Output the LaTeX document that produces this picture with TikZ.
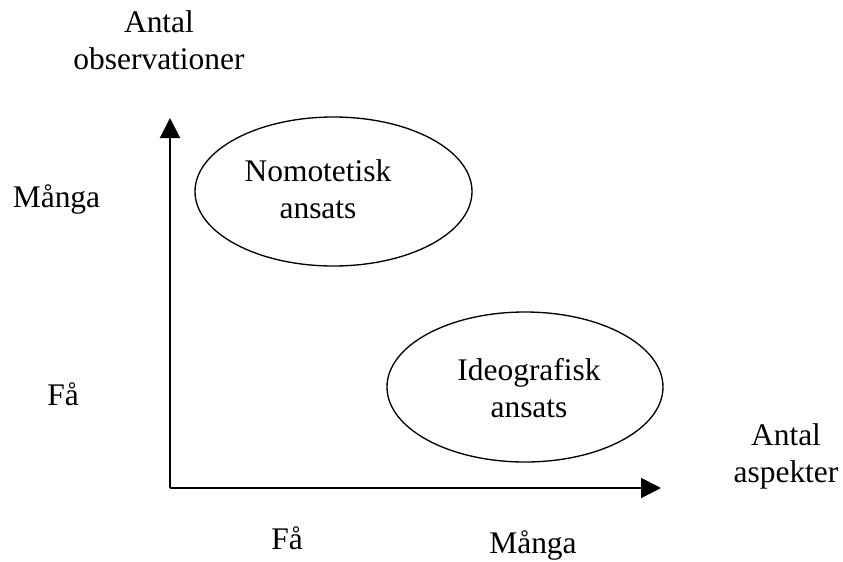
\documentclass[tikz,border=0pt]{standalone}
\usepackage{fontspec}
\setmainfont{Liberation Serif}
\usetikzlibrary{arrows.meta}

\begin{document}
\begin{tikzpicture}[x=0.75pt,y=0.75pt,yscale=-1,xscale=1,
  axis/.style={line width=1.5pt,-{Triangle[length=15pt,width=15pt]}},
  lbl/.style={inner sep=0pt,font=\fontsize{23.6}{27.75}\selectfont},
  twoline/.style={lbl,align=center}]
\useasboundingbox (0,0) rectangle (843,561);

%Points of the axes
\coordinate (O) at (170,488);
\coordinate (ytip) at (170,118);
\coordinate (xtip) at (661,488);

%Straight Lines
\draw [axis] (O) -- (ytip);
%Straight Lines
\draw [axis] (O) -- (xtip);

%Shape: Ellipse
\draw [line width=1pt] (333.5,191.5) ellipse (138.5 and 74.5);
%Shape: Ellipse
\draw [line width=1pt] (525,387) ellipse (138 and 75);

% Text Node
\node [twoline] (nomo) at (318,189.3) {Nomotetisk\\ansats};
% Text Node
\node [twoline] (ideo) at (529,387.7) {Ideografisk\\ansats};
% Text Node
\node [twoline] (yname) at (159,40.7) {Antal\\observationer};
% Text Node
\node [twoline] (xname) at (786,456) {Antal\\aspekter};
% Text Node
\node [lbl,anchor=base] (ymany) at (56.5,207) {Många};
% Text Node
\node [lbl,anchor=base] (yfew) at (63,405) {Få};
% Text Node
\node [lbl,anchor=base] (xfew) at (287,549) {Få};
% Text Node
\node [lbl,anchor=base] (xmany) at (533,553) {Många};

\end{tikzpicture}
\end{document}
